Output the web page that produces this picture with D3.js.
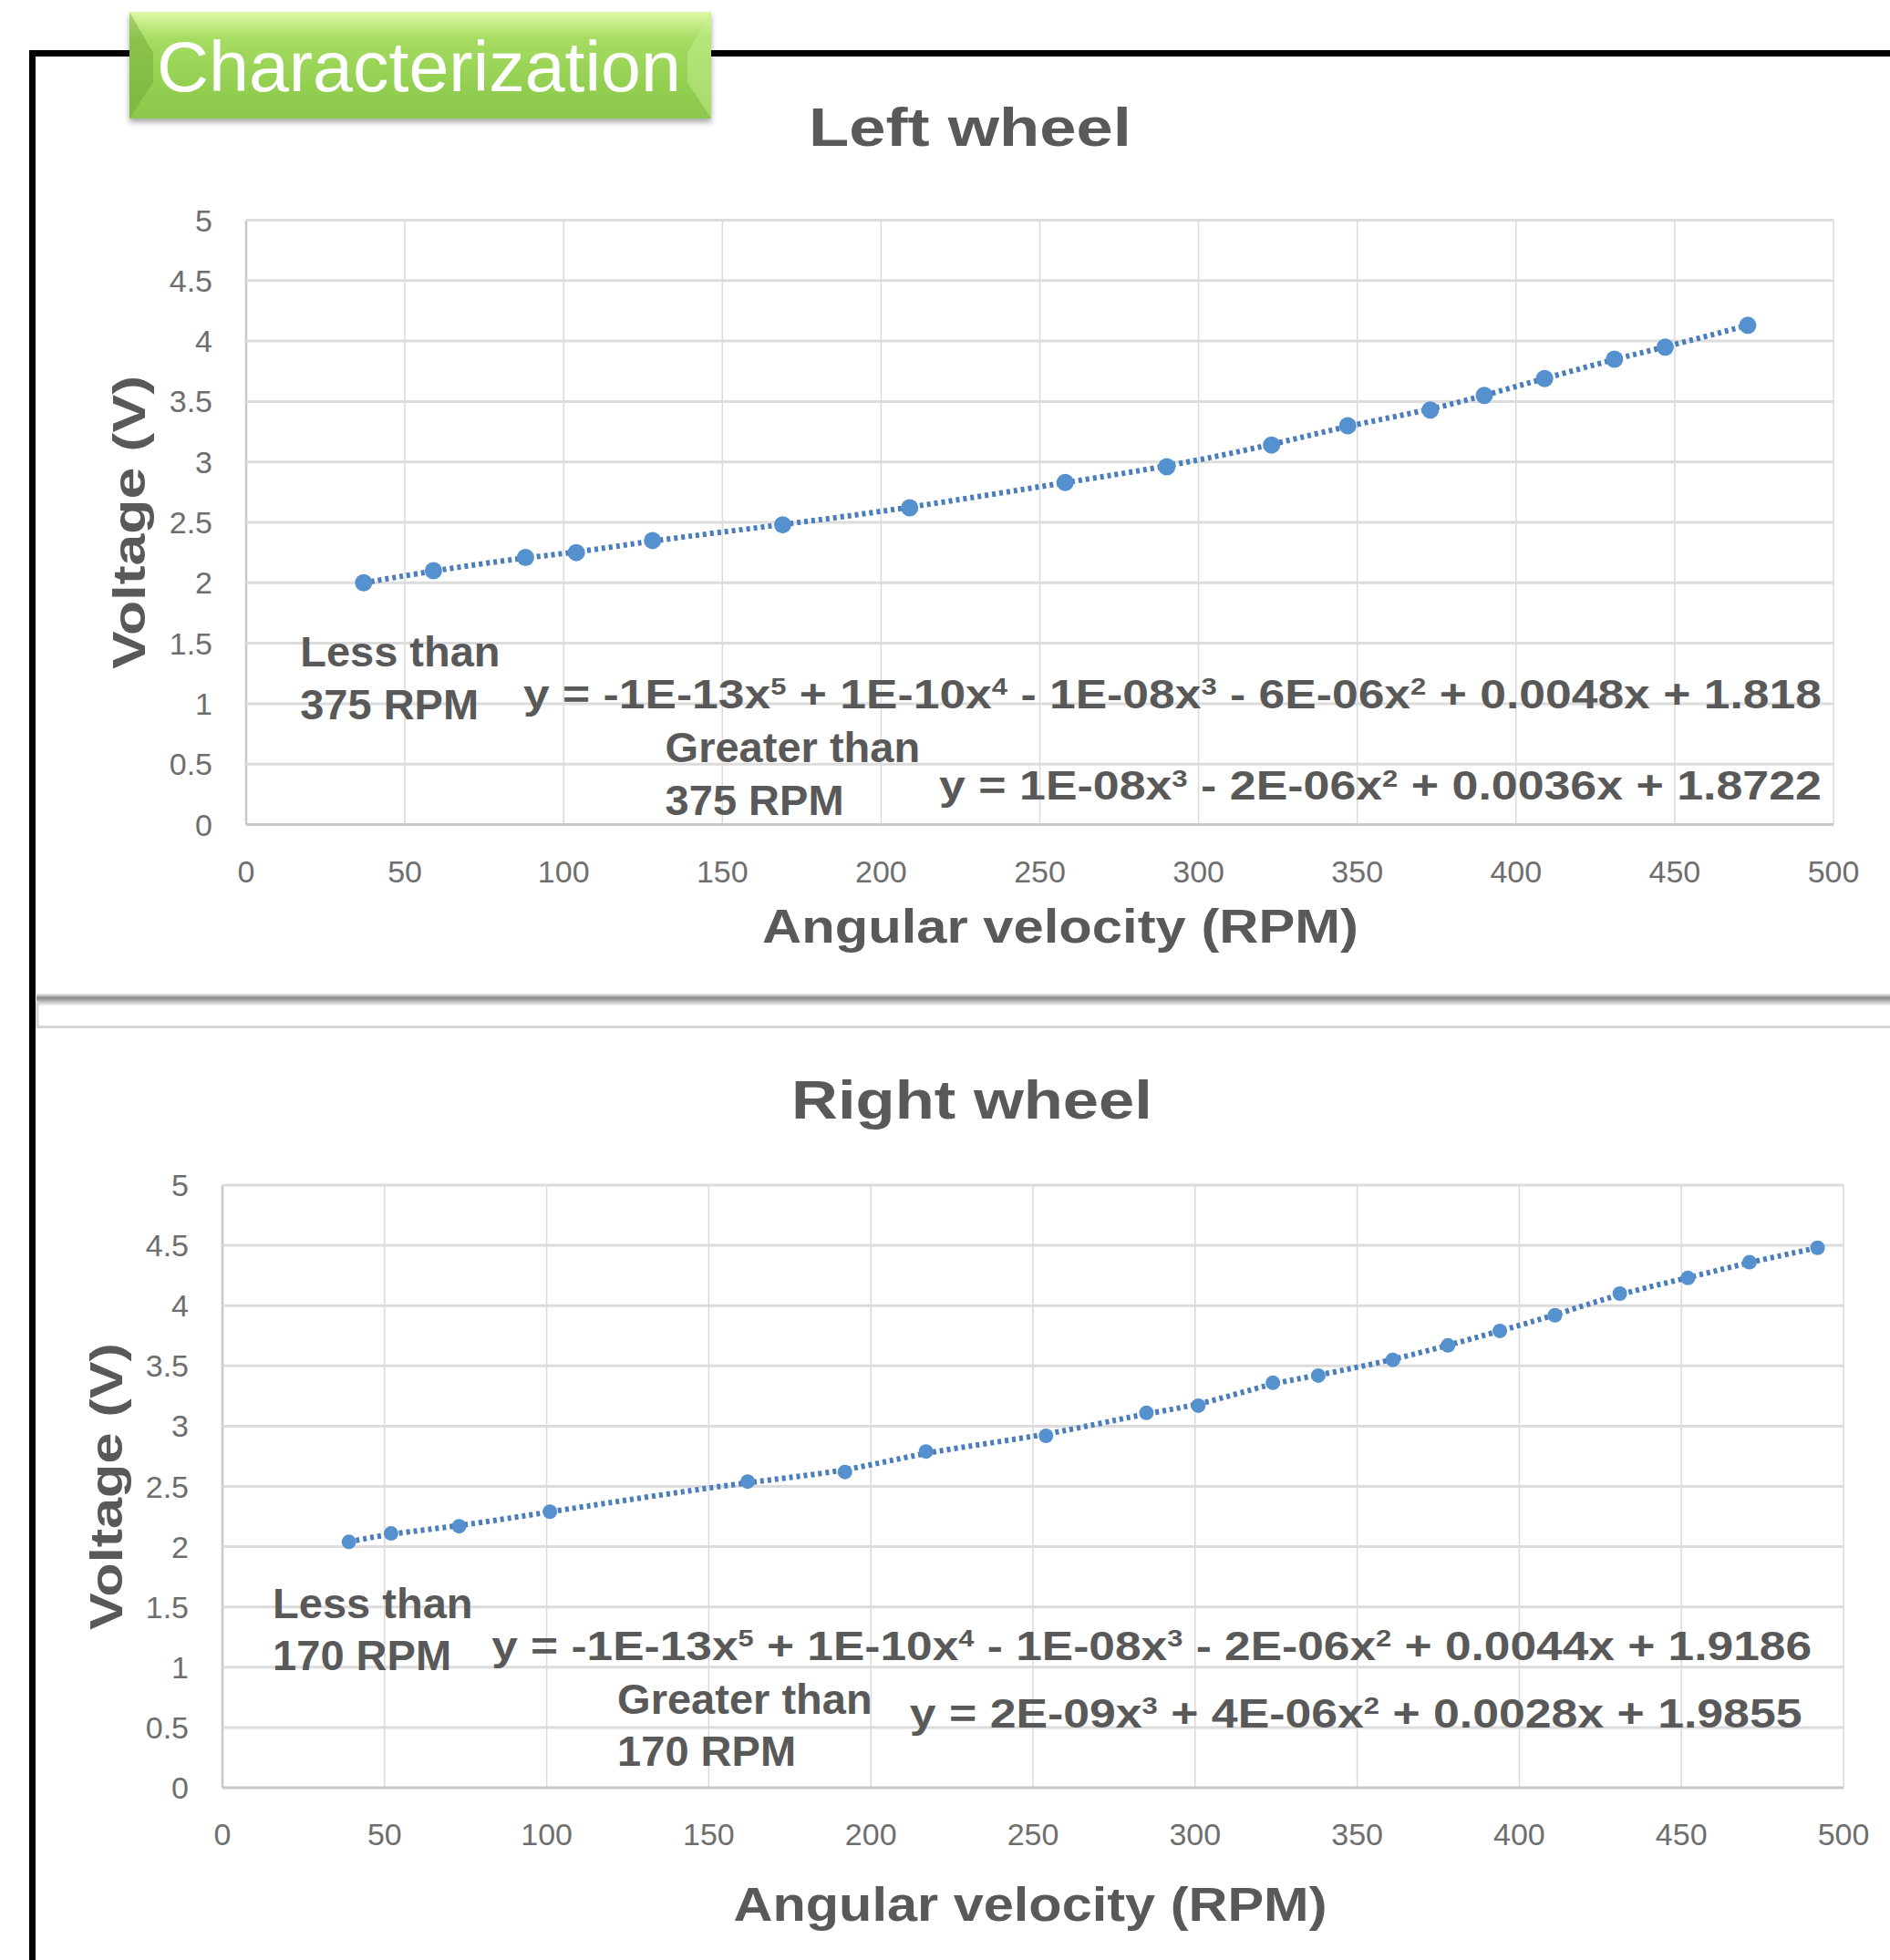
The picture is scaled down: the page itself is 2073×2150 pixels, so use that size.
<!DOCTYPE html>
<html>
<head>
<meta charset="utf-8">
<script src="https://cdn.jsdelivr.net/npm/d3@7"></script>
<style>
  body { margin: 0; background: #fff; }
  svg { display: block; }
</style>
</head>
<body>
<script>
// axis ticks
const rpmTicks = [0, 50, 100, 150, 200, 250, 300, 350, 400, 450, 500];
const voltTicks = [0, 0.5, 1, 1.5, 2, 2.5, 3, 3.5, 4, 4.5, 5];

// left wheel measurements
const leftRpm  = [37, 59, 88, 104, 128, 169, 209, 258, 290, 323, 347, 373, 390, 409, 431, 447, 473];
const leftVolt = [2.00, 2.10, 2.21, 2.25, 2.35, 2.48, 2.62, 2.83, 2.96, 3.14, 3.30, 3.43, 3.55, 3.69, 3.85, 3.95, 4.13];

// right wheel measurements
const rightRpm  = [39, 52, 73, 101, 162, 192, 217, 254, 285, 301, 324, 338, 361, 378, 394, 411, 431, 452, 471, 492];
const rightVolt = [2.04, 2.11, 2.17, 2.29, 2.54, 2.62, 2.79, 2.92, 3.11, 3.17, 3.36, 3.42, 3.55, 3.67, 3.79, 3.92, 4.10, 4.23, 4.36, 4.48];

// fitted equations (^n = superscript)
const leftEqLow   = "y = -1E-13x^5 + 1E-10x^4 - 1E-08x^3 - 6E-06x^2 + 0.0048x + 1.818";
const leftEqHigh  = "y = 1E-08x^3 - 2E-06x^2 + 0.0036x + 1.8722";
const rightEqLow  = "y = -1E-13x^5 + 1E-10x^4 - 1E-08x^3 - 2E-06x^2 + 0.0044x + 1.9186";
const rightEqHigh = "y = 2E-09x^3 + 4E-06x^2 + 0.0028x + 1.9855";

const W = 2073, H = 2150;
const TXT = "#595959";
const FONT = "'Liberation Sans', Arial, sans-serif";

const svg = d3.select("body").append("svg")
    .attr("width", W)
    .attr("height", H);

const defs = svg.append("defs");

// stretch a text element horizontally so it spans the target width
function fitWidth(node, x, target) {
    const len = node.getComputedTextLength();
    const k = target / len;
    d3.select(node).attr("transform", `translate(${x},0) scale(${k},1) translate(${-x},0)`);
}

function addEquation(g, str, x, y, size) {
    const t = g.append("text")
        .attr("x", x).attr("y", y)
        .style("font-family", FONT)
        .style("font-weight", "bold")
        .style("font-size", size + "px")
        .attr("fill", TXT);
    str.split(/(\^\d)/).filter(s => s.length).forEach(part => {
        if (part[0] === "^") {
            t.append("tspan")
                .attr("baseline-shift", "super")
                .style("font-size", "60%")
                .text(part.slice(1));
        } else {
            t.append("tspan").text(part);
        }
    });
    return t;
}

// ---- frame and heading box ----
svg.append("path")
    .attr("d", `M35.5,${H} V58.5 H${W}`)
    .attr("fill", "none")
    .attr("stroke", "#000")
    .attr("stroke-width", 7);

const grad = defs.append("linearGradient").attr("id", "greenGrad")
    .attr("x1", 0).attr("y1", 0).attr("x2", 0).attr("y2", 1);
grad.append("stop").attr("offset", "0%").attr("stop-color", "#dff9a6");
grad.append("stop").attr("offset", "25%").attr("stop-color", "#a6dc62");
grad.append("stop").attr("offset", "70%").attr("stop-color", "#92cf50");
grad.append("stop").attr("offset", "100%").attr("stop-color", "#8cc84c");

const shadow = defs.append("filter").attr("id", "boxShadow")
    .attr("x", "-5%").attr("y", "-10%").attr("width", "110%").attr("height", "130%");
shadow.append("feDropShadow")
    .attr("dx", 0).attr("dy", 4).attr("stdDeviation", 3)
    .attr("flood-color", "#000").attr("flood-opacity", 0.35);

const box = { x0: 142, x1: 780, y0: 13, y1: 130 };
const head = svg.append("g");
head.append("rect")
    .attr("x", box.x0).attr("y", box.y0)
    .attr("width", box.x1 - box.x0).attr("height", box.y1 - box.y0)
    .attr("fill", "url(#greenGrad)")
    .attr("filter", "url(#boxShadow)");
head.append("polygon")
    .attr("points", [[box.x0, box.y0], [box.x0 + 26, box.y0 + 45], [box.x0 + 26, box.y1 - 40], [box.x0, box.y1]].join(" "))
    .attr("fill", "#6fa536").attr("opacity", 0.45);
head.append("polygon")
    .attr("points", [[box.x1, box.y0], [box.x1 - 26, box.y0 + 45], [box.x1 - 26, box.y1 - 40], [box.x1, box.y1]].join(" "))
    .attr("fill", "#c8ee90").attr("opacity", 0.5);
const headText = head.append("text")
    .attr("x", 172).attr("y", 100)
    .style("font-family", FONT)
    .style("font-size", "78px")
    .attr("fill", "#fff")
    .text("Characterization");
fitWidth(headText.node(), 172, 575);

// ---- separator between the two charts ----
const sepGrad = defs.append("linearGradient").attr("id", "sepGrad")
    .attr("x1", 0).attr("y1", 0).attr("x2", 0).attr("y2", 1);
sepGrad.append("stop").attr("offset", "0%").attr("stop-color", "#f2f2f2");
sepGrad.append("stop").attr("offset", "35%").attr("stop-color", "#8a8a8a");
sepGrad.append("stop").attr("offset", "100%").attr("stop-color", "#f4f4f4");
svg.append("rect")
    .attr("x", 40).attr("y", 1090).attr("width", W - 40).attr("height", 13)
    .attr("fill", "url(#sepGrad)");
svg.append("path")
    .attr("d", `M41,1098 V1126.5 H${W}`)
    .attr("fill", "none")
    .attr("stroke", "#d6d6d6")
    .attr("stroke-width", 3);

// ---- chart panels ----
const panels = [
    {
        title: "Left wheel", rpm: leftRpm, volt: leftVolt,
        left: 270, right: 2011, top: 241.5, bottom: 904.5,
        titleX: 1064, titleY: 160, titleW: 354, yTitleX: 159, yTitleW: 322,
        xTitleX: 1163, xTitleY: 1034, xTitleW: 654, r: 9.5,
        notes: [
            { lines: ["Less than", "375 RPM"], rpm: 17, v: 1.305 },
            { lines: ["Greater than", "375 RPM"], rpm: 132, v: 0.513 }
        ],
        eqs: [
            { str: leftEqLow, rpm: 87.3, rpmEnd: 496.3, v: 0.962 },
            { str: leftEqHigh, rpm: 218.3, rpmEnd: 496.3, v: 0.204 }
        ]
    },
    {
        title: "Right wheel", rpm: rightRpm, volt: rightVolt,
        left: 244, right: 2022, top: 1300, bottom: 1961,
        titleX: 1066, titleY: 1227, titleW: 396, yTitleX: 134, yTitleW: 315,
        xTitleX: 1130, xTitleY: 2107, xTitleW: 651, r: 8,
        notes: [
            { lines: ["Less than", "170 RPM"], rpm: 15.5, v: 1.407 },
            { lines: ["Greater than", "170 RPM"], rpm: 121.8, v: 0.613 }
        ],
        eqs: [
            { str: rightEqLow, rpm: 83, rpmEnd: 490.2, v: 1.059 },
            { str: rightEqHigh, rpm: 212, rpmEnd: 487.3, v: 0.499 }
        ]
    }
];

panels.forEach(p => {
    const g = svg.append("g");
    const x = d3.scaleLinear().domain([0, 500]).range([p.left, p.right]);
    const y = d3.scaleLinear().domain([0, 5]).range([p.bottom, p.top]);

    // gridlines
    g.selectAll(".vgrid").data(rpmTicks).join("line")
        .attr("class", "vgrid")
        .attr("x1", d => x(d)).attr("x2", d => x(d))
        .attr("y1", y(5)).attr("y2", y(0))
        .attr("stroke", d => d === 0 ? "#c8c8c8" : "#dadada")
        .attr("stroke-width", d => d === 0 ? 2.5 : 1.5);
    g.selectAll(".hgrid").data(voltTicks).join("line")
        .attr("class", "hgrid")
        .attr("x1", x(0)).attr("x2", x(500))
        .attr("y1", d => y(d)).attr("y2", d => y(d))
        .attr("stroke", d => d === 0 ? "#c8c8c8" : "#dcdcdc")
        .attr("stroke-width", 3);

    // tick labels
    g.selectAll(".ylab").data(voltTicks).join("text")
        .attr("class", "ylab")
        .attr("x", x(0) - 37)
        .attr("y", d => y(d) + 12)
        .attr("text-anchor", "end")
        .style("font-family", FONT)
        .style("font-size", "34px")
        .attr("fill", "#6e6e6e")
        .text(d => d);
    g.selectAll(".xlab").data(rpmTicks).join("text")
        .attr("class", "xlab")
        .attr("x", d => x(d))
        .attr("y", y(0) + 63)
        .attr("text-anchor", "middle")
        .style("font-family", FONT)
        .style("font-size", "34px")
        .attr("fill", "#6e6e6e")
        .text(d => d);

    // titles
    const title = g.append("text")
        .attr("x", p.titleX).attr("y", p.titleY)
        .attr("text-anchor", "middle")
        .style("font-family", FONT)
        .style("font-weight", "bold")
        .style("font-size", "60px")
        .attr("fill", TXT)
        .text(p.title);
    fitWidth(title.node(), p.titleX, p.titleW);

    const xTitle = g.append("text")
        .attr("x", p.xTitleX).attr("y", p.xTitleY)
        .attr("text-anchor", "middle")
        .style("font-family", FONT)
        .style("font-weight", "bold")
        .style("font-size", "52px")
        .attr("fill", TXT)
        .text("Angular velocity (RPM)");
    fitWidth(xTitle.node(), p.xTitleX, p.xTitleW);

    const yMid = (p.top + p.bottom) / 2;
    const yTitle = g.append("g")
        .attr("transform", `translate(${p.yTitleX},${yMid}) rotate(-90)`)
        .append("text")
        .attr("x", 0).attr("y", 0)
        .attr("text-anchor", "middle")
        .style("font-family", FONT)
        .style("font-weight", "bold")
        .style("font-size", "50px")
        .attr("fill", TXT)
        .text("Voltage (V)");
    fitWidth(yTitle.node(), 0, p.yTitleW);

    // dotted fit line through the measurements
    const pts = p.rpm.map((r, i) => [r, p.volt[i]]);
    const line = d3.line()
        .x(d => x(d[0]))
        .y(d => y(d[1]))
        .curve(d3.curveBasis);
    g.append("path")
        .datum(pts)
        .attr("d", line)
        .attr("fill", "none")
        .attr("stroke", "#4a7dbb")
        .attr("stroke-width", 6)
        .attr("stroke-dasharray", "4 4");

    g.selectAll(".pt").data(pts).join("circle")
        .attr("class", "pt")
        .attr("cx", d => x(d[0]))
        .attr("cy", d => y(d[1]))
        .attr("r", p.r)
        .attr("fill", "#5590cf");

    // annotations
    p.notes.forEach(n => {
        n.lines.forEach((txt, i) => {
            g.append("text")
                .attr("x", x(n.rpm))
                .attr("y", y(n.v) + i * 57.5)
                .style("font-family", FONT)
                .style("font-weight", "bold")
                .style("font-size", "47px")
                .attr("fill", TXT)
                .text(txt);
        });
    });
    p.eqs.forEach(e => {
        const t = addEquation(g, e.str, x(e.rpm), y(e.v), 44);
        fitWidth(t.node(), x(e.rpm), x(e.rpmEnd) - x(e.rpm));
    });
});
</script>
</body>
</html>
